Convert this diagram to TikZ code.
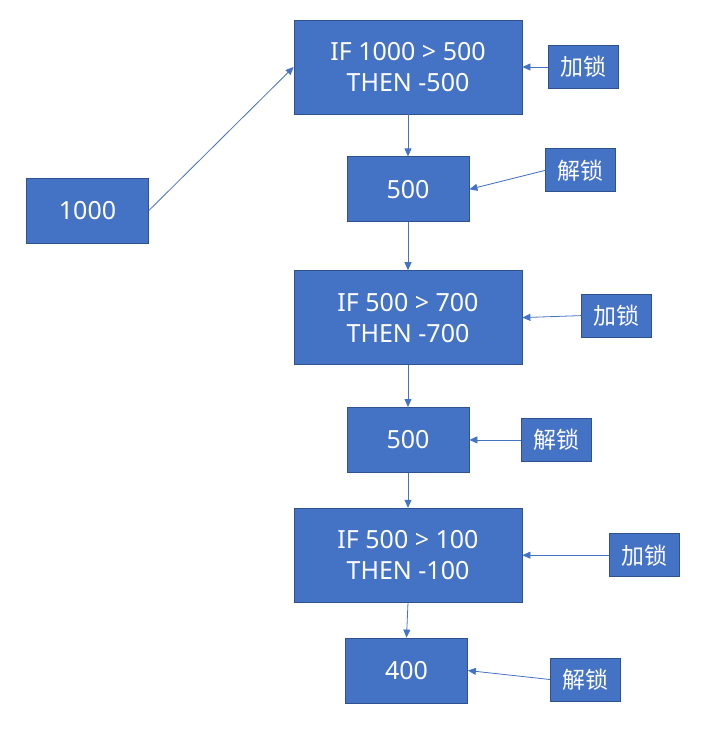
\documentclass[tikz,border=0pt]{standalone}
\usepackage{fontspec}
\setmainfont{Noto Sans}
\newfontfamily\cjk{Noto Sans CJK SC}
\usepackage{xcolor}
\usetikzlibrary{arrows.meta, positioning}
\definecolor{boxblue}{RGB}{68, 114, 196}
\definecolor{edgeblue}{RGB}{47, 82, 143}
\tikzset{
    condbox/.style={rectangle, minimum width=228pt, minimum height=94pt,
                    inner sep=0pt, align=center, draw=edgeblue, fill=boxblue,
                    text=white, font=\fontsize{25}{31}\selectfont,
                    line width=0.8pt},
    valbox/.style={condbox, minimum width=122pt, minimum height=65pt},
    lockbox/.style={rectangle, minimum width=70pt, minimum height=43pt,
                    inner sep=0pt, draw=edgeblue, fill=boxblue, text=white,
                    font=\cjk\fontsize{23}{28}\selectfont, line width=0.8pt},
    arr/.style={line width=0.8pt, -{Triangle[length=8pt, width=7pt]}, color=boxblue},
}
\begin{document}
\begin{tikzpicture}[x=1pt, y=-1pt]
    \useasboundingbox (0,0) rectangle (714,731);
    \node[valbox] (start) at (87.5,210.5) {1000};
    \node[condbox] (if1) at (408,67) {IF 1000 > 500\\THEN -500};
    \node[valbox, below=42pt of if1] (v1) {500};
    \node[condbox, below=48pt of v1] (if2) {IF 500 > 700\\THEN -700};
    \node[valbox, below=42pt of if2] (v2) {500};
    \node[condbox, below=35pt of v2] (if3) {IF 500 > 100\\THEN -100};
    \node[valbox, below=35pt of if3, xshift=-1.5pt] (v3) {400};
    \node[lockbox, right=26pt of if1] (lock1) {加锁};
    \node[lockbox, right=76pt of v1, yshift=19pt] (unlock1) {解锁};
    \node[lockbox, right=59pt of if2, yshift=2pt] (lock2) {加锁};
    \node[lockbox, right=52pt of v2] (unlock2) {解锁};
    \node[lockbox, right=87pt of if3] (lock3) {加锁};
    \node[lockbox, right=82pt of v3, yshift=-9pt] (unlock3) {解锁};

    \draw[arr] (start.east) -- (if1.west);
    \draw[arr] (if1) -- (v1);
    \draw[arr] (v1) -- (if2);
    \draw[arr] (if2) -- (v2);
    \draw[arr] (v2) -- (if3);
    \draw[arr] (if3.south) -- (v3.north);
    \draw[arr] (lock1.west) -- (if1.east);
    \draw[arr] (unlock1.west) -- (v1.east);
    \draw[arr] (lock2.west) -- (if2.east);
    \draw[arr] (unlock2.west) -- (v2.east);
    \draw[arr] (lock3.west) -- (if3.east);
    \draw[arr] (unlock3.west) -- (v3.east);
\end{tikzpicture}
\end{document}
